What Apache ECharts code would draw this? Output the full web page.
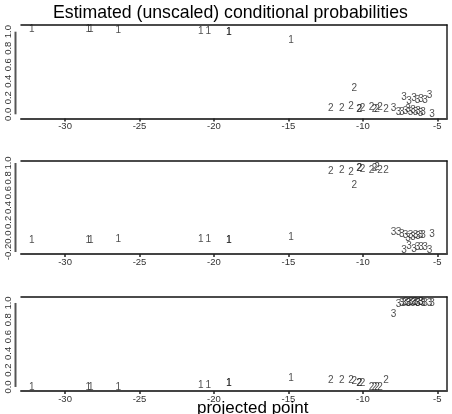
<!DOCTYPE html>
<html>
<head>
<meta charset="utf-8">
<script src="https://cdn.jsdelivr.net/npm/echarts@6/dist/echarts.min.js"></script>
<style>
  html, body { margin: 0; padding: 0; background: #fff; }
  #chart { width: 452px; height: 414px; }
</style>
</head>
<body>
<div id="chart"></div>
<script>
// projected point of each observation and its class
const proj = [
  -32.24, -28.44, -28.27, -26.42, -20.89, -20.38, -19.01, -18.99, -14.82,
  -12.16, -11.42, -10.79, -10.57, -10.26, -10.22, -10.03, -9.42, -9.21, -9.05, -8.84, -8.44,
  -7.94, -7.60,
  -7.23, -6.90, -6.56, -6.33, -6.09, -5.82, -5.52,
  -7.39, -7.13, -6.96, -6.80, -6.63, -6.46, -6.29, -6.12, -5.96, -5.35
]
const cls = [
  1, 1, 1, 1, 1, 1, 1, 1, 1,
  2, 2, 2, 2, 2, 2, 2, 2, 2, 2, 2, 2,
  3, 3,
  3, 3, 3, 3, 3, 3, 3,
  3, 3, 3, 3, 3, 3, 3, 3, 3, 3
]
// estimated (unscaled) conditional probabilities for class 1, 2, 3
const prob1 = [
  1.033, 1.033, 1.033, 1.02, 1.0, 1.0, 0.99, 0.99, 0.90,
  0.073, 0.073, 0.092, 0.315, 0.06, 0.058, 0.073, 0.088, 0.06, 0.06, 0.08, 0.06,
  0.07, 0.028,
  0.21, 0.16, 0.19, 0.17, 0.18, 0.17, 0.23,
  0.02, 0.04, 0.06, 0.03, 0.05, 0.02, 0.04, 0.01, 0.03, 0.0
]
const prob2 = [
  -0.04, -0.04, -0.04, -0.03, -0.03, -0.03, -0.04, -0.04, 0.0,
  0.883, 0.896, 0.874, 0.70, 0.929, 0.926, 0.919, 0.906, 0.929, 0.937, 0.906, 0.896,
  0.06, 0.06,
  -0.17, -0.12, -0.16, -0.14, -0.14, -0.14, -0.18,
  0.04, 0.03, -0.01, 0.02, 0.0, 0.03, 0.01, 0.02, 0.03, 0.04
]
const prob3 = [
  0.0, 0.0, 0.0, 0.0, 0.02, 0.02, 0.04, 0.04, 0.10,
  0.083, 0.075, 0.075, 0.063, 0.05, 0.048, 0.044, 0.0, 0.0, 0.0, 0.0, 0.083,
  0.87, 0.99,
  1.0, 1.0, 1.01, 1.0, 1.01, 1.0, 1.0,
  1.0, 1.01, 1.0, 1.01, 1.0, 1.01, 1.0, 1.01, 1.0, 1.0
]
const xTicks = [-30, -25, -20, -15, -10, -5]
const yTicks = [
  [0, 0.2, 0.4, 0.6, 0.8, 1.0],
  [-0.2, 0, 0.2, 0.4, 0.6, 0.8, 1.0],
  [0, 0.2, 0.4, 0.6, 0.8, 1.0]
]
const xRange = [-32.96, -4.35]
const yRanges = [[-0.051, 1.081], [-0.227, 1.027], [-0.048, 1.071]]
const probs = [prob1, prob2, prob3]

const font = 'Liberation Sans, Arial, sans-serif'
const panels = [
  { top: 25, height: 93.5 },
  { top: 161, height: 93 },
  { top: 297, height: 94 }
]

const grid = []
const xAxis = []
const yAxis = []
const series = []

panels.forEach((p, k) => {
  grid.push({ left: 21, right: 5, top: p.top, height: p.height })
  // bottom axis with ticks
  xAxis.push({
    type: 'value', gridIndex: k, min: xRange[0], max: xRange[1],
    splitLine: { show: false },
    axisLine: { onZero: false, lineStyle: { color: '#444', width: 2 } },
    axisTick: { customValues: xTicks, length: 3, lineStyle: { color: '#222', width: 1.5 } },
    axisLabel: {
      customValues: xTicks, margin: 3, fontSize: 9.5, color: '#333', fontFamily: font
    }
  })
  // top border
  xAxis.push({
    type: 'value', gridIndex: k, position: 'top', min: xRange[0], max: xRange[1],
    splitLine: { show: false }, axisTick: { show: false }, axisLabel: { show: false },
    axisLine: { onZero: false, lineStyle: { color: '#111', width: 1.5 } }
  })
  yAxis.push({
    type: 'value', gridIndex: k, min: yRanges[k][0], max: yRanges[k][1],
    splitLine: { show: false }, axisTick: { show: false },
    axisLine: { show: false, onZero: false },
    axisLabel: {
      customValues: yTicks[k], rotate: 90, margin: 8, fontSize: 9.5, color: '#333',
      fontFamily: font, formatter: v => v.toFixed(1)
    }
  })
  // right border
  yAxis.push({
    type: 'value', gridIndex: k, position: 'right', min: yRanges[k][0], max: yRanges[k][1],
    splitLine: { show: false }, axisTick: { show: false }, axisLabel: { show: false },
    axisLine: { onZero: false, lineStyle: { color: '#222', width: 1.5 } }
  })

  // R style y axis line, offset to the left of the box, spanning first..last tick
  const yt = yTicks[k]
  series.push({
    type: 'custom', xAxisIndex: 2 * k, yAxisIndex: 2 * k, silent: true,
    data: [[xRange[0], yt[0], yt[yt.length - 1]]],
    renderItem: (params, api) => {
      const a = api.coord([api.value(0), api.value(1)])
      const b = api.coord([api.value(0), api.value(2)])
      return {
        type: 'line',
        shape: { x1: a[0] - 5.5, y1: a[1], x2: b[0] - 5.5, y2: b[1] },
        style: { stroke: '#555', lineWidth: 2 }
      }
    }
  })

  series.push({
    type: 'scatter', xAxisIndex: 2 * k, yAxisIndex: 2 * k,
    symbolSize: 1,
    itemStyle: { color: 'rgba(0,0,0,0)' },
    label: {
      show: true, position: 'inside', formatter: d => String(d.value[2]),
      fontSize: 10, color: '#222', fontFamily: font
    },
    data: proj.map((x, i) => [x, probs[k][i], cls[i]])
  })
})

const chart = echarts.init(document.getElementById('chart'))
chart.setOption({
  animation: false,
  title: [
    {
      text: 'Estimated (unscaled) conditional probabilities', left: 53, top: 4, padding: 0,
      textStyle: { fontSize: 17.7, fontWeight: 'normal', color: '#000', fontFamily: font }
    },
    {
      text: 'projected point', left: 197, top: 400, padding: 0,
      textStyle: { fontSize: 17, fontWeight: 'normal', color: '#000', fontFamily: font }
    }
  ],
  grid,
  xAxis,
  yAxis,
  series
})
</script>
</body>
</html>
